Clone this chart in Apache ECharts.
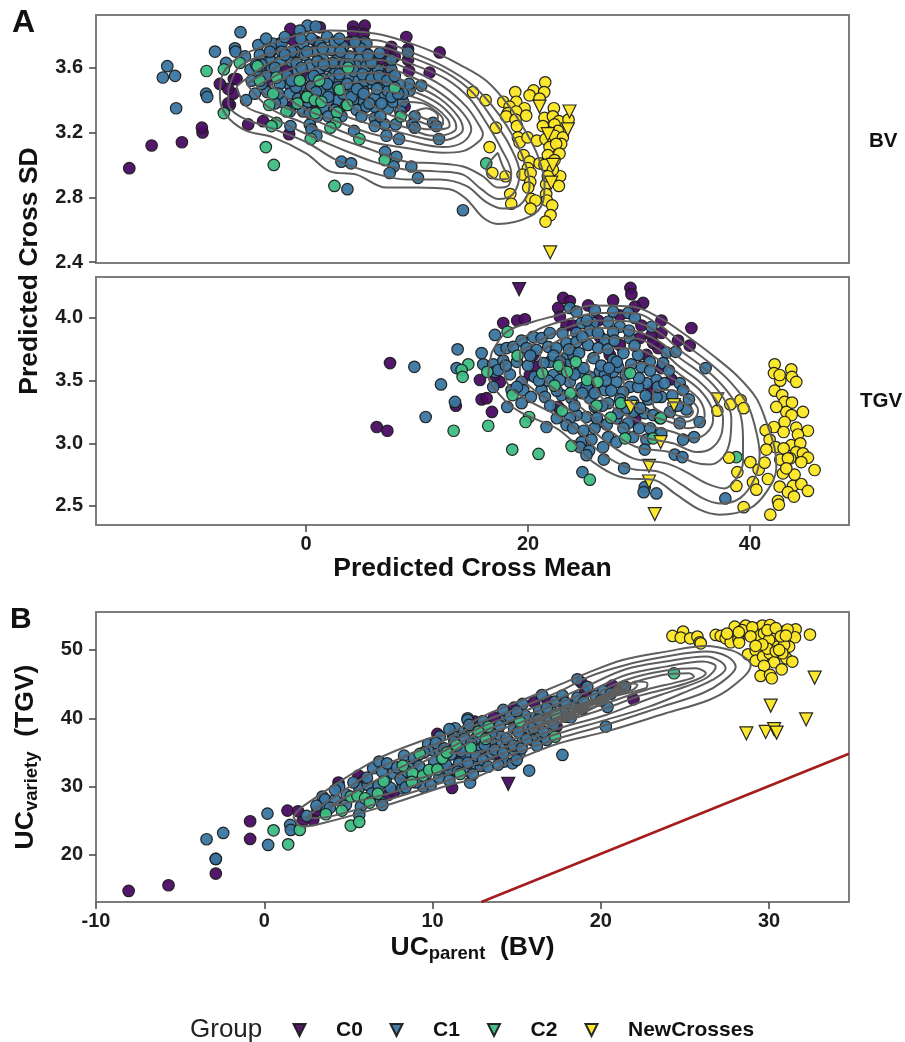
<!DOCTYPE html>
<html><head><meta charset="utf-8">
<style>html,body{margin:0;padding:0;background:#fff}#c{width:905px;height:1042px}</style>
<script src="https://cdn.jsdelivr.net/npm/echarts@6/dist/echarts.min.js"></script>
</head><body><div id="c"></div>
<script>
const groups=['C0','C1','C2','NewCrosses'];
const xTicksA=[0,20,40];
const yTicksBV=[2.4,2.8,3.2,3.6];
const yTicksTGV=[2.5,3.0,3.5,4.0];
const xTicksB=[-10,0,10,20,30];
const yTicksB=[20,30,40,50];

const bvC0=[[-15.92,2.98],[-13.91,3.12],[-11.18,3.14],[-9.32,3.2],[-9.38,3.23],[-5.21,3.25],[-3.86,3.27],[-1.52,3.19],[-6.86,3.37],[-7.01,3.38],[-6.56,3.44],[-7.01,3.47],[-7.76,3.5],[-6.5,3.53],[-6.26,3.53],[-3.41,3.52],[-1.4,3.84],[1.24,3.85],[4.24,3.855],[5.29,3.86],[4.24,3.82],[5.2,3.81],[9.04,3.79],[12.04,3.695],[11.14,3.57],[3.94,3.76],[7.69,3.73],[9.19,3.715],[7.39,3.7],[9.19,3.65],[7.99,3.67],[9.28,3.58],[7.24,3.58],[6.94,3.52],[8.89,3.36],[-2.36,3.75],[-1.16,3.77],[0.94,3.76],[-1.76,3.58],[-0.26,3.56],[2.44,3.465],[0.94,3.36],[-1.16,3.37],[5.44,3.69],[6.64,3.65],[7.54,3.61],[-3.26,3.69]];
const bvC0Tri=[[4.54,3.715]];
const bvC1=[[-12.5,3.61],[-12.9,3.54],[-11.8,3.55],[-11.7,3.35],[-9,3.44],[-8.9,3.42],[-8.2,3.7],[-5.9,3.82],[-6.4,3.72],[-6.35,3.7],[-7.2,3.63],[-5.5,3.67],[0.13,3.86],[0.88,3.855],[-0.56,3.83],[-4.3,3.74],[-4.16,3.68],[-5.4,3.4],[-4.6,3.44],[-5,3.59],[-4.9,3.52],[-1.4,3.24],[0.34,3.25],[0.49,3.22],[0.94,3.18],[4.33,3.21],[3.19,3.02],[4.06,3.01],[3.73,2.85],[7.12,3.08],[8.14,3.05],[7.9,2.99],[7.54,2.95],[9.49,2.99],[10.09,2.92],[14.14,2.72],[11.44,3.26],[11.74,3.24],[9.79,3.3],[9.58,3.25],[9.79,3.23],[11.98,3.16],[8.38,3.16],[7.24,3.18],[7.09,3.25],[8.08,3.25],[6.19,3.29],[6.19,3.24],[10.39,3.49],[9.34,3.46],[9.28,3.5],[-3,3.75],[-2.2,3.75],[-1,3.7],[0.49,3.78],[1.9,3.79],[1.24,3.74],[2.29,3.71],[3.34,3.73],[5.29,3.76],[3.34,3.68],[-2.2,3.7],[-3.17,3.64],[-4,3.62],[-2.3,3.64],[-1.3,3.64],[-0.11,3.68],[0.79,3.7],[2.74,3.645],[1.54,3.65],[3.94,3.67],[4.84,3.65],[6.04,3.64],[7.69,3.59],[6.19,3.56],[4.54,3.54],[3.34,3.59],[2.29,3.54],[1.24,3.59],[0.34,3.62],[-0.71,3.58],[-1.52,3.5],[-2.36,3.5],[-4.16,3.58],[-1.46,3.44],[0.19,3.475],[1.24,3.455],[2.2,3.475],[3.04,3.52],[4.24,3.465],[5.14,3.465],[5.89,3.505],[7.09,3.495],[8.44,3.495],[7.09,3.43],[6.19,3.41],[5.14,3.4],[4.24,3.4],[2.89,3.4],[1.99,3.4],[0.94,3.4],[0.19,3.39],[-0.71,3.41],[-2.15,3.39],[-1.46,3.33],[-0.26,3.33],[0.34,3.32],[1.54,3.35],[2.59,3.34],[3.64,3.37],[4.54,3.34],[5.44,3.36],[6.19,3.36],[7.39,3.35],[7.84,3.39],[8.74,3.39],[7.39,3.455],[8.74,3.44],[4.54,3.61],[5.44,3.61],[6.64,3.69],[7.69,3.65],[9.19,3.695],[-0.56,3.485],[0.49,3.54],[1.54,3.53],[3.34,3.44],[3.79,3.54],[5.29,3.52],[6.49,3.59],[-0.26,3.75],[-1.3,3.7],[2.59,3.59],[-3.26,3.7],[-3.1,3.59],[-0.86,3.63],[0.49,3.485],[5.44,3.75],[2.59,3.76],[3.49,3.62],[5.89,3.63],[7.69,3.54],[1.84,3.61],[1.03,3.64],
[-4.5,3.62],[-3.6,3.55],[-2.8,3.6],[-1.9,3.68],[-1.7,3.55],[-0.9,3.48],[-0.4,3.6],[0.1,3.7],[0.7,3.55],[0.9,3.45],[1.5,3.72],[1.9,3.5],[2,3.42],[2.4,3.63],[2.9,3.48],[3,3.56],[3.1,3.7],[3.7,3.5],[3.9,3.62],[4.1,3.42],[4.3,3.58],[4.6,3.47],[4.9,3.72],[5.1,3.56],[5.2,3.44],[5.7,3.38],[5.6,3.68],[5.9,3.53],[6.4,3.47],[6.6,3.55],[6.8,3.38],[7.3,3.52],[7.7,3.42],[8,3.55],[8.3,3.44],[8.5,3.33],[6.7,3.3],[5,3.3],[3.2,3.3],[2,3.3],[1,3.3],[-2.5,3.44],[-3.5,3.45],[-4,3.5],[-2.8,3.38],[-1.3,3.52],[0,3.42],[1.6,3.62],[3,3.78],[4.4,3.76],[-0.5,3.78],[-1.9,3.79],[-3.6,3.78]];
const bvC2=[[-8.96,3.58],[-7.4,3.59],[-5.96,3.63],[-4.37,3.61],[-4.16,3.52],[-2.66,3.54],[-0.56,3.52],[1.18,3.52],[3.79,3.6],[3.04,3.465],[-2.96,3.44],[7.99,3.475],[0.1,3.42],[0.79,3.4],[1.39,3.39],[-0.77,3.38],[3.73,3.37],[-3.32,3.37],[-1.76,3.33],[0.85,3.32],[-7.4,3.32],[2.8,3.325],[2.68,3.26],[2.2,3.23],[8.53,3.3],[-2.66,3.26],[-3.11,3.24],[0.43,3.16],[4.81,3.16],[-3.62,3.11],[-2.9,3],[7.09,3.03],[2.56,2.87],[16.24,3.01]];
const bvNew=[[15.04,3.45],[16.18,3.4],[17.11,3.23],[16.54,3.11],[16.78,2.95],[17.98,2.93],[17.77,3.39],[18.85,3.45],[20.5,3.46],[20.14,3.43],[21.55,3.51],[21.46,3.45],[21.04,3.41],[18.94,3.39],[19.69,3.35],[18.34,3.36],[18.19,3.32],[18.04,3.3],[18.94,3.33],[19.84,3.305],[18.88,3.28],[19,3.24],[19.09,3.17],[19.24,3.14],[19.96,3.17],[20.8,3.15],[22.33,3.35],[21.49,3.29],[22.24,3.3],[22.78,3.27],[23.65,3.28],[21.34,3.24],[22.39,3.25],[22.69,3.21],[21.94,3.2],[21.58,3.16],[22.39,3.18],[23.14,3.17],[22.99,3.13],[21.94,3.11],[22.54,3.13],[22.84,3.07],[21.79,3.06],[19.6,3.06],[20.14,3.02],[21.04,3.01],[21.49,3],[22.39,3.03],[19.99,2.98],[19.51,2.94],[20.23,2.95],[20.2,2.895],[20.02,2.86],[22.9,2.93],[22.78,2.87],[21.64,2.88],[21.64,2.82],[21.7,2.78],[18.4,2.82],[18.49,2.76],[20.29,2.79],[20.68,2.78],[20.23,2.73],[22.18,2.75],[22.03,2.69],[21.58,2.65],[22.24,2.97],[21.79,2.93]];
const bvNewTri=[[21.04,3.36],[23.74,3.33],[23.59,3.22],[21.79,3.19],[22.24,3],[22.09,2.89],[22,2.46]];
const bvContours=[
[[-7.76,3.44],[-7.46,3.567],[-5.96,3.67],[-3.86,3.73],[-0.86,3.8],[2.14,3.83],[6.34,3.81],[9.04,3.76],[11.74,3.69],[13.84,3.62],[16.24,3.52],[18.34,3.36],[19.84,3.2],[20.89,3.055],[21.49,2.89],[21.34,2.77],[20.14,2.68],[17.29,2.635],[15.94,2.675],[14.44,2.79],[12.94,2.85],[9.94,2.86],[7.24,2.86],[4.54,2.94],[2.14,2.96],[0.04,3.07],[-2.96,3.17],[-5.36,3.21],[-6.86,3.28],[-7.61,3.36]],
[[-7,3.465],[-5.96,3.61],[-2.66,3.7],[2.14,3.78],[6.34,3.77],[9.34,3.7],[12.34,3.61],[15.04,3.49],[17.29,3.32],[18.94,3.14],[19.84,2.99],[20.14,2.87],[19.24,2.75],[17.74,2.73],[16.24,2.77],[14.44,2.87],[12.04,2.91],[9.04,2.91],[6.04,2.95],[2.74,3.03],[0.04,3.14],[-3.26,3.23],[-5.96,3.3],[-7,3.38]],
[[-6.26,3.485],[-2.66,3.65],[2.14,3.73],[6.34,3.73],[9.64,3.66],[12.64,3.57],[15.04,3.445],[16.84,3.28],[18.34,3.12],[19.24,2.95],[18.64,2.82],[17.29,2.79],[15.79,2.85],[14.14,2.94],[11.74,2.96],[9.04,2.97],[6.04,3.02],[2.74,3.11],[-0.26,3.2],[-3.26,3.3],[-5.36,3.36]],
[[-5.36,3.5],[-2.06,3.62],[2.14,3.69],[6.34,3.69],[9.64,3.62],[12.64,3.53],[14.74,3.41],[16.24,3.26],[17.59,3.1],[18.49,2.95],[18.19,2.87],[17.29,2.86],[15.94,2.93],[14.14,2.99],[11.74,3.01],[9.04,3.02],[6.04,3.09],[2.74,3.17],[-0.26,3.26],[-3.26,3.35]],
[[-4.46,3.485],[-1.46,3.59],[2.14,3.65],[6.34,3.65],[9.64,3.58],[12.34,3.485],[14.44,3.36],[15.64,3.24],[15.94,3.19],[15.49,3.14],[14.14,3.085],[12.34,3.075],[9.04,3.105],[6.04,3.14],[2.74,3.22],[-0.26,3.31],[-2.66,3.38]],
[[17.29,3.075],[17.74,2.99],[18.28,2.92],[17.29,2.91],[16.24,2.97],[16.69,3.03]],
[[-3.26,3.5],[-0.86,3.56],[2.14,3.61],[6.34,3.61],[9.64,3.54],[12.19,3.44],[14.14,3.32],[14.89,3.22],[14.14,3.14],[12.34,3.11],[9.04,3.15],[6.04,3.19],[2.74,3.27],[-0.26,3.35]],
[[0.04,3.485],[2.74,3.56],[6.34,3.57],[9.64,3.495],[12.04,3.41],[13.69,3.3],[14.14,3.22],[13.39,3.17],[12.04,3.15],[9.04,3.19],[6.34,3.24],[3.04,3.32]],
[[3.34,3.5],[6.34,3.52],[9.64,3.455],[11.89,3.38],[13.24,3.29],[13.54,3.23],[12.79,3.19],[11.44,3.18],[9.04,3.23],[6.34,3.29],[3.94,3.37]],
[[6.34,3.465],[9.64,3.42],[11.74,3.35],[12.79,3.28],[12.94,3.24],[12.04,3.22],[10.84,3.22],[9.04,3.27],[6.64,3.34],[5.44,3.41]],
[[8.74,3.39],[10.54,3.38],[11.74,3.33],[12.34,3.28],[12.34,3.25],[11.14,3.25],[9.34,3.3],[8.29,3.35]],
[[9.79,3.33],[10.84,3.35],[11.89,3.3],[11.74,3.27],[10.54,3.29]]
];

const tgvC0=[[7.57,3.64],[6.37,3.13],[7.33,3.1],[13.5,3.3],[16.75,3.25],[15.67,3.505],[15.82,3.35],[16.27,3.36],[17.47,3.49],[17,3.545],[17.77,3.96],[19.03,3.98],[19.72,3.99],[22.72,4.08],[22.87,4.01],[23.17,4.16],[23.77,4.135],[27.67,4.14],[29.23,4.24],[29.32,4.19],[25.42,4.1],[30.37,4.12],[29.62,4.09],[23.47,3.94],[24.07,3.94],[26.32,3.98],[28.27,4.02],[30.22,3.94],[31.12,3.86],[32.02,3.88],[32.02,3.98],[33.52,3.82],[34.57,3.78],[34.72,3.92],[31.72,3.76],[31.27,3.8],[32.92,3.51],[31.12,3.425],[29.65,3.19],[22.72,3.29],[25.72,3.42],[20.17,3.545],[20.77,3.61],[20.47,3.705],[26.47,3.85],[27.37,3.705],[28.27,3.785],[30.67,3.705],[32.02,3.6],[30.07,3.84]];
const tgvC0Tri=[[19.2,4.23]];
const tgvC1=[[9.76,3.61],[12.16,3.47],[13.42,3.33],[10.78,3.21],[13.66,3.75],[13.57,3.6],[15.82,3.72],[17.02,3.865],[15.97,3.63],[16.87,3.63],[17.02,3.57],[17.77,3.66],[17.32,3.585],[18.37,3.55],[16.87,3.45],[19.42,3.49],[19.57,3.425],[18.52,3.425],[18.13,3.29],[19.42,3.32],[20.26,3.37],[21.67,3.13],[17.47,3.745],[18.07,3.76],[18.67,3.77],[19.42,3.82],[19.87,3.76],[20.47,3.85],[21.22,3.84],[21.97,3.88],[20.77,3.745],[21.82,3.77],[22.57,3.76],[23.47,3.8],[23.77,4.08],[24.37,4.05],[26.02,4.06],[27.67,4.05],[29.02,4.04],[29.62,4],[27.22,3.97],[25.87,3.96],[24.82,3.96],[24.37,3.88],[25.57,3.9],[26.92,3.825],[28.27,3.93],[29.17,3.84],[31.12,3.93],[27.67,3.89],[29.92,3.705],[30.97,3.65],[30.22,3.61],[32.47,3.725],[33.31,3.73],[32.17,3.64],[36,3.6],[33.67,3.48],[33.97,3.425],[31.57,3.505],[30.67,3.48],[29.17,3.45],[29.92,3.45],[28.57,3.41],[27.97,3.49],[27.67,3.57],[26.47,3.57],[25.57,3.53],[24.67,3.57],[23.47,3.68],[24.07,3.705],[25.42,3.785],[23.47,3.625],[22.27,3.545],[23.77,3.49],[22.87,3.505],[21.22,3.425],[21.52,3.37],[23.02,3.385],[23.92,3.36],[24.82,3.44],[25.57,3.36],[26.92,3.425],[27.22,3.32],[26.02,3.29],[25.27,3.21],[24.37,3.225],[23.77,3.2],[23.47,3.145],[24.07,3.12],[26.32,3.17],[27.97,3.2],[29.02,3.16],[28.12,3.24],[30.52,3.24],[31.27,3.225],[33.67,3.16],[34.27,3.27],[35.47,3.17],[32.02,3.37],[30.82,3.35],[31.57,3.37],[29.47,3.33],[24.82,3.01],[25.72,3.03],[27.22,3.05],[27.97,3.01],[29.47,3.05],[30.67,3.03],[30.52,2.95],[33.97,3.03],[34.96,3.05],[33.22,2.91],[33.91,2.89],[26.77,2.97],[24.67,2.97],[25.5,2.94],[25.27,2.905],[26.83,2.87],[28.66,2.8],[24.9,2.77],[30.52,2.65],[30.42,2.61],[31.57,2.6],[37.78,2.56],[26.92,3.545],[28.12,3.61],[21.97,3.65],[24.37,3.81],[26.32,3.76],[27.67,3.665],
[19,3.65],[20,3.62],[20.6,3.53],[21.4,3.64],[21.8,3.5],[22.3,3.7],[22.6,3.42],[23,3.6],[23.1,3.88],[23.7,3.75],[24.2,3.55],[24.6,3.72],[24.9,3.85],[25,3.6],[25.3,3.45],[25.3,3.98],[25.9,3.68],[26,3.4],[26.3,3.88],[26.6,3.62],[26.7,3.3],[27,3.5],[27.2,3.75],[27.5,3.42],[27.8,3.82],[28,3.65],[28.3,3.35],[28.6,3.72],[28.8,3.55],[29.1,3.9],[29.3,3.63],[29.5,3.25],[29.6,3.78],[30,3.52],[30.6,3.38],[31,3.58],[31.7,3.45],[32.3,3.48],[32.7,3.58],[33,3.38],[24.2,3.3],[25,3.1],[26,3.12],[27.1,3.15],[28.6,3.12],[30,3.12],[31,3.12],[32,3.08],[22.6,3.2],[24.9,3.4],[22,3.3],[21,3.5],[20.2,3.7],[19,3.45],[18,3.62],[22.9,3.65],[26.2,3.2],[27.3,3.6],[28.9,3.28],[30.1,3.28],[32.8,3.25],[33.5,3.3],[34.5,3.35],[31.9,3.2]];
const tgvC2=[[18.16,3.89],[14.62,3.63],[14.02,3.585],[14.11,3.53],[16.33,3.57],[19.06,3.7],[22.78,3.62],[24.31,3.65],[23.53,3.57],[21.28,3.56],[25.33,3.505],[26.26,3.49],[29.2,3.56],[22.39,3.46],[23.83,3.4],[18.61,3.385],[28.36,3.32],[26.17,3.3],[23.08,3.26],[20.1,3.21],[19.78,3.17],[16.42,3.14],[13.3,3.1],[18.58,2.95],[20.95,2.915],[27.46,3.205],[31.96,3.2],[23.92,2.98],[28.75,3.04],[31.27,3.04],[25.57,2.71],[38.77,2.89]];
const tgvNew=[[37.06,3.26],[38.23,3.31],[39.15,3.345],[39.43,3.28],[42.22,3.63],[42.16,3.56],[43.72,3.59],[43.78,3.53],[44.17,3.49],[42.73,3.5],[42.22,3.42],[42.9,3.385],[43.12,3.33],[43.78,3.325],[44.77,3.25],[43.27,3.25],[43.75,3.225],[43.12,3.17],[42.16,3.13],[41.41,3.105],[43.03,3.09],[44.17,3.125],[45.22,3.1],[44.32,3.07],[41.77,3.03],[42.31,2.97],[41.47,2.95],[43.72,2.985],[44.53,3],[43.03,2.96],[44.17,2.93],[44.77,2.92],[45.22,2.885],[42.73,2.87],[43.63,2.88],[44.62,2.85],[38.11,2.885],[38.86,2.77],[40.03,2.85],[40.78,2.79],[41.32,2.845],[41.62,2.715],[45.82,2.787],[42.97,2.76],[44.02,2.75],[42.67,2.655],[43.87,2.66],[44.62,2.675],[40.27,2.69],[40.57,2.63],[38.77,2.66],[45.22,2.62],[43.42,2.61],[43.96,2.575],[42.52,2.54],[42.6,2.51],[39.43,2.49],[41.83,2.43],[42.37,3.29],[42.67,3.545],[43.42,2.88],[43.27,2.8]];
const tgvNewTri=[[29.25,3.29],[33.15,3.305],[37.05,3.35],[31.95,3.01],[30.9,2.82],[30.9,2.695],[31.42,2.435]];
const tgvContours=[
[[16.72,3.72],[18.07,3.89],[20.47,3.97],[22.57,4.02],[25.87,4.1],[29.47,4.09],[31.87,4],[34.27,3.86],[36.67,3.7],[38.77,3.545],[40.57,3.36],[41.47,3.17],[42.22,2.96],[42.37,2.8],[41.47,2.61],[39.97,2.48],[37.27,2.43],[35.47,2.47],[33.37,2.59],[31.27,2.71],[28.87,2.72],[25.87,2.85],[24.07,3.01],[22.57,3.12],[19.27,3.25],[17.47,3.385],[16.42,3.545]],
[[17.77,3.73],[20.47,3.89],[22.87,3.97],[26.47,4.04],[29.47,4.04],[31.87,3.94],[33.97,3.8],[36.37,3.64],[38.32,3.48],[39.82,3.3],[40.57,3.09],[40.87,2.91],[40.42,2.72],[39.07,2.56],[37.27,2.52],[35.77,2.56],[33.67,2.68],[31.87,2.77],[29.17,2.8],[26.47,2.93],[24.67,3.09],[22.87,3.21],[19.87,3.35],[18.07,3.49]],
[[19.27,3.73],[22.87,3.9],[26.47,3.98],[29.47,3.97],[31.87,3.88],[33.67,3.745],[36.07,3.585],[37.87,3.425],[39.07,3.25],[39.37,3.04],[39.37,2.85],[38.77,2.72],[37.72,2.64],[36.07,2.68],[34.27,2.77],[32.47,2.84],[29.47,2.88],[27.07,3.01],[25.27,3.15],[23.47,3.28],[20.77,3.41],[19.27,3.57]],
[[21.07,3.73],[23.47,3.85],[26.47,3.92],[29.47,3.9],[31.87,3.81],[33.67,3.68],[35.77,3.545],[37.42,3.385],[38.32,3.2],[38.17,3.01],[37.57,2.89],[36.37,2.83],[34.87,2.85],[32.77,2.93],[29.77,2.97],[27.37,3.1],[25.57,3.225],[23.77,3.36],[21.67,3.49]],
[[22.87,3.705],[25.87,3.84],[29.47,3.84],[31.87,3.745],[33.67,3.61],[35.47,3.49],[36.82,3.36],[37.57,3.2],[37.42,3.07],[36.52,2.96],[35.17,2.93],[33.07,3],[30.37,3.05],[27.67,3.17],[25.87,3.29],[24.07,3.44]],
[[25.27,3.665],[27.67,3.76],[30.07,3.745],[32.47,3.625],[33.97,3.53],[35.47,3.425],[36.52,3.29],[36.67,3.185],[36.07,3.08],[34.87,3.04],[33.07,3.09],[30.67,3.15],[28.27,3.25],[26.47,3.385]],
[[28.57,3.6],[30.37,3.64],[32.47,3.545],[34.12,3.45],[35.47,3.345],[35.92,3.225],[35.47,3.15],[34.42,3.12],[32.77,3.17],[30.67,3.24],[28.87,3.385]],
[[31.27,3.425],[32.77,3.425],[34.42,3.36],[35.32,3.265],[35.02,3.2],[33.97,3.17],[32.62,3.225],[31.27,3.305]],
[[32.62,3.33],[33.97,3.32],[34.87,3.25],[34.42,3.21],[33.37,3.225],[32.62,3.28]]
];

const ucC0=[[-8.06,14.72],[-5.69,15.55],[-2.88,17.26],[-2.88,19.4],[-0.84,24.92],[-0.84,22.33],[1.38,26.48],[2.01,26.38],[2.27,24.87],[2.91,25.12],[3.16,26.48],[4.41,30.58],[5.6,31.61],[5.94,30.97],[7.36,28.78],[7.72,29.26],[8.21,30.58],[10.29,37.71],[11.16,29.8],[12.51,39.51],[11.68,34.39],[20.69,44.78],[21.94,42.78],[18.85,45.22],[19.07,43.81],[18.91,41.37],[17.37,38.78],[17.92,40.24],[16.83,42.59],[16.04,42.34],[14.85,41.56],[13.66,40.15],[14.06,34.14]];
const ucC0Tri=[[14.5,30.39]];
const ucC1=[[-3.43,22.29],[-2.44,23.21],[-2.88,19.41],[0.19,26.04],[0.23,21.46],[1.54,24.39],[1.58,23.65],[2.53,25.7],[3.46,28.53],[3.62,28.14],[3.66,26.73],[4.21,28.04],[4.85,27.31],[4.45,30],[5.74,27.07],[5.64,25.85],[5.64,29.85],[6.15,30.24],[6.47,32.68],[6.83,33.66],[6.93,27.8],[7.02,27.31],[7.22,30.97],[7.66,31.95],[8.21,29.75],[8.31,34.53],[8.85,33.17],[9.44,30],[9.74,36.19],[9.99,35.36],[10.39,35.36],[10.43,37.32],[11.22,37.32],[11.34,38.54],[11.88,38.05],[12.09,40],[12.17,38.78],[10.59,32.44],[11.12,32.44],[11.62,33.3],[12.07,32.34],[12.23,30.58],[12.57,33.17],[12.87,33.02],[11.97,34.39],[12.57,37.07],[13.26,35.61],[10.99,32.44],[13.47,34.73],[14.26,33.66],[14.75,33.41],[15.15,34.78],[14.85,35.36],[13.96,37.56],[14.06,36.1],[14.36,39.9],[14.2,41.22],[14.85,38.54],[15.74,38.54],[15.35,37.22],[16.4,37.46],[16.79,36.83],[16,40],[16.34,41.22],[15.35,42.1],[16.83,39.9],[17.27,42.44],[17.72,43.32],[17.82,41.22],[18.22,40.15],[18.36,42.05],[18.61,43.03],[18.61,45.71],[19.7,43.27],[20.14,44],[21.44,44.64],[20.4,41.66],[20.3,38.78],[17.72,34.63],[15.74,32.34],[13.27,38.29],[12.08,39.76],[11.29,37.3],[12.18,39.02],[12.77,35.36],[11.58,33.4],[13.47,36.58],[12.57,33.9],[14.55,36.58],[15.94,36.8],
[3.1,27.2],[3.9,26.9],[4.2,29.5],[4.9,28.8],[5.3,30.6],[6.1,31.3],[6.4,29],[6.8,30.1],[7,32.2],[7.3,33.4],[7.5,29.8],[7.9,32.8],[8.1,31.1],[8.4,29.9],[8.5,32.2],[8.9,34.2],[9,30.6],[9.2,33],[9.5,35],[9.6,31.7],[9.9,30.3],[10.1,33.6],[10.2,36.4],[10.4,31.3],[10.7,35.6],[10.8,33.2],[11,30.9],[11.1,34.7],[11.3,36.5],[11.5,32.2],[11.7,35.2],[11.9,37],[12.1,33.5],[12.3,36.3],[12.4,31.8],[12.6,34.5],[12.8,38.7],[13,33.9],[13.1,36.1],[13.3,32.9],[13.5,37.8],[13.7,35.4],[13.9,33.2],[14,38.9],[14.2,34.9],[14.4,37],[14.6,40.2],[14.8,36],[15,33.9],[15.1,38],[15.3,35.6],[15.5,40.4],[15.6,36.9],[16,38.6],[16.2,36],[16.3,39.8],[16.6,38],[16.8,41.5],[17.2,39.1],[17.9,42.3],[19,42.4],[19.2,44.6],[20,42.6],[20.6,43.6],[16.5,43.4],[15,41],[13,39.6],[11,38.4]];
const ucC2=[[24.35,46.59],[17.33,40.59],[17.29,37.3],[15.19,39.51],[0.55,23.6],[1.42,21.55],[2.11,23.65],[3.66,25.95],[4.61,26.48],[5.14,24.29],[5.64,24.82],[5.14,28.53],[5.54,28.63],[5.99,28.29],[6.27,27.65],[6.75,28.97],[7.1,30.78],[8.23,33.07],[8.81,31.95],[8.77,30.68],[9.44,31.61],[9.24,34.78],[9.8,32.44],[10.29,32.53],[10.59,34.14],[10.85,35],[11.42,36.05],[12.27,35.71],[11.64,31.85],[12.73,38.05],[13.16,36.97],[13.32,38.78]];
const ucNew=[[24.26,52.05],[24.89,52.69],[24.75,51.81],[25.31,51.71],[25.74,51.96],[25.88,51.13],[25.94,50.98],[26.83,52.2],[27.13,52.05],[27.42,51.71],[27.72,51.13],[27.96,53.42],[28.18,51.57],[28.22,51.08],[28.61,53.57],[28.75,52.54],[29.31,53.18],[29.31,51.37],[29.6,53.57],[30.06,53.66],[29.31,52.2],[29.7,52.44],[30.49,52.35],[30.89,52.69],[31.35,52.54],[31.58,53.03],[30.29,51.71],[31.54,51.86],[32.43,52.25],[30.02,50.64],[30.49,50.49],[31.19,50.49],[28.75,49.37],[29.21,49.91],[29.21,48.44],[29.64,49.03],[30.04,49.52],[30.3,48.2],[30.75,47.17],[31.03,48.78],[31.38,48.3],[29.7,47.66],[29.5,46.2],[30.06,46.34],[30.16,45.86],[30,51.47],[30.89,50.74],[30.79,49.52],[28.4,52.9],[29,53.3],[28.9,52],[29.9,52.9],[30.4,53.2],[30.7,52],[31.1,53],[29.9,50.2],[30.4,49.8],[29.6,50.8],[31,52.1],[30.6,50],[29.2,50.6],[28.2,52.6],[27.5,52.4]];
const ucNewTri=[[32.71,45.95],[30.1,41.85],[32.2,39.85],[28.65,37.8],[29.8,38],[30.3,38.4],[30.45,37.9]];
const ucContours=[
[[1.72,25.6],[2.27,27.07],[6.63,33.9],[9.8,37.07],[10.99,37.8],[13.37,40.73],[15.35,42.68],[17.52,44.88],[18.91,46.34],[21.29,48.54],[23.86,49.76],[26.24,50.59],[27.82,49.9],[28.61,48.78],[28.91,47.81],[27.82,44.64],[26.43,42.68],[23.86,40.73],[20.3,38.05],[17.52,36.34],[14.95,33.9],[12.18,30.97],[10.98,30.24],[7.02,27.07],[3.46,24.63],[2.27,24.14]],
[[2.47,25.36],[3.46,27.31],[7.02,32.92],[10.99,37.07],[12.97,39.51],[15.35,41.71],[17.52,43.9],[19.31,46.1],[21.48,47.81],[23.86,49.03],[26.24,49.76],[27.52,49.03],[28.02,47.56],[27.23,45.37],[26.04,43.66],[23.66,41.71],[20.3,39.02],[17.52,37.07],[14.95,34.88],[12.18,31.95],[7.02,27.8],[3.86,25.6]],
[[3.86,27.07],[7.42,31.95],[10.99,36.34],[12.97,38.78],[15.35,40.98],[17.52,42.93],[19.31,44.88],[21.48,47.17],[23.86,48.3],[26.24,49.03],[27.13,48.3],[27.42,47.32],[26.63,45.61],[24.85,43.66],[22.87,41.71],[20.3,39.76],[17.52,37.8],[14.95,35.61],[12.18,32.92],[7.42,29]],
[[7.82,31.46],[10.99,35.61],[12.97,38.05],[15.35,40.24],[17.52,42.2],[19.5,44.15],[21.48,46.34],[23.86,47.56],[26.04,48.3],[26.83,47.56],[26.24,45.86],[24.45,44.15],[22.67,42.68],[20.3,40.49],[17.52,38.54],[14.95,36.34],[12.18,33.9],[8.41,30.97]],
[[10.99,34.88],[12.97,37.32],[15.35,39.51],[17.52,41.46],[19.5,43.42],[21.48,45.61],[23.86,46.98],[25.64,47.32],[26.24,46.59],[25.64,45.61],[24.06,44.39],[22.47,43.42],[20.3,41.46],[17.52,39.27],[14.95,37.07],[12.18,34.88]],
[[12.97,36.58],[15.35,38.78],[17.52,40.73],[19.5,42.68],[21.48,44.88],[23.66,46.34],[25.25,46.59],[25.54,46.1],[24.65,45.37],[22.67,44.15],[20.3,42.2],[17.52,40],[14.95,37.8],[13.56,36.58]],
[[15.35,38.05],[17.52,40.15],[19.5,41.95],[21.29,43.9],[22.08,45.37],[22.77,45.12],[22.67,44.39],[20.3,42.93],[17.52,40.73],[15.35,38.78]],
[[17.52,39.51],[19.5,41.46],[21.48,45.12],[22.18,44.88],[21.88,44.15],[19.7,42.68],[17.52,41.22],[16.34,39.76]],
[[15.94,38.29],[18.12,40.49],[20.3,43.17],[21.68,44.54],[20.89,43.42],[18.51,41.22],[16.34,39.02]],
[[16.93,39.51],[18.91,41.71],[20.69,43.9],[21.29,44.39],[20.3,42.44],[18.51,40.49]]
];
const redLine=[[12.9,13.1],[34.75,34.8]];

const colors={C0:'#4a0c63',C1:'#3a76a0',C2:'#3dbd83',NewCrosses:'#fde725'};
const font='Liberation Sans';
const tickStyle={show:true,length:7,lineStyle:{color:'#444',width:1.5}};
const lab={show:true,color:'#1c1c1c',fontFamily:font,fontWeight:'bold',fontSize:20};
function xAxis(i,min,max,ticks,show,extra){return Object.assign({gridIndex:i,type:'value',min,max,axisLine:{show:false,onZero:false},splitLine:{show:false},
  axisTick:Object.assign({},tickStyle,{show,customValues:ticks}),axisLabel:Object.assign({},lab,{show,margin:9,customValues:ticks})},extra||{});}
function yAxis(i,min,max,ticks,fmt,extra){return Object.assign({gridIndex:i,type:'value',min,max,axisLine:{show:false,onZero:false},splitLine:{show:false},
  axisTick:Object.assign({},tickStyle,{customValues:ticks}),axisLabel:Object.assign({},lab,{margin:13,customValues:ticks,formatter:fmt})},extra||{});}
const series=[];
function contours(list,i){list.forEach(r=>series.push({type:'line',name:'density',xAxisIndex:i,yAxisIndex:i,data:r.concat([r[0]]),smooth:0.35,symbol:'none',silent:true,
  lineStyle:{color:'#5e5e5e',width:2}}));}
function pts(name,data,i,tri){series.push({type:'scatter',name,xAxisIndex:i,yAxisIndex:i,data,silent:true,
  symbol:tri?'triangle':'circle',symbolSize:tri?13:11.5,symbolRotate:tri?180:0,
  itemStyle:{color:colors[name],borderColor:'#1c1c1c',borderWidth:1.2,opacity:0.95}});}
contours(bvContours,0);pts('C0',bvC0,0);pts('C0',bvC0Tri,0,true);pts('C1',bvC1,0);pts('C2',bvC2,0);pts('NewCrosses',bvNew,0);pts('NewCrosses',bvNewTri,0,true);
contours(tgvContours,1);pts('C0',tgvC0,1);pts('C0',tgvC0Tri,1,true);pts('C1',tgvC1,1);pts('C2',tgvC2,1);pts('NewCrosses',tgvNew,1);pts('NewCrosses',tgvNewTri,1,true);
contours(ucContours,2);
series.push({type:'line',name:'reference',xAxisIndex:2,yAxisIndex:2,data:redLine,symbol:'none',silent:true,lineStyle:{color:'#a51c1c',width:2.6}});
pts('C0',ucC0,2);pts('C0',ucC0Tri,2,true);pts('C1',ucC1,2);pts('C2',ucC2,2);pts('NewCrosses',ucNew,2);pts('NewCrosses',ucNewTri,2,true);

const gridBase={show:true,left:96,width:753,backgroundColor:'#fff',borderColor:'#7d7d7d',borderWidth:2};
const head={fontFamily:font,fontWeight:'bold',fill:'#111'};
const richName={a:{fontFamily:font,fontWeight:'bold',fontSize:26.5,color:'#111'},s:{fontFamily:font,fontWeight:'bold',fontSize:18.5,color:'#111',verticalAlign:'bottom',padding:[12,0,0,0]}};
const legLeft=[287.5,384.5,482,579.5];
const option={animation:false,backgroundColor:'#fff',
 grid:[Object.assign({},gridBase,{top:15,height:248}),Object.assign({},gridBase,{top:277,height:248}),Object.assign({},gridBase,{top:612,height:290})],
 xAxis:[xAxis(0,-18.92,48.92,xTicksA,false),
  xAxis(1,-18.92,48.92,xTicksA,true,{name:'Predicted Cross Mean',nameLocation:'middle',nameGap:28,nameTextStyle:{fontFamily:font,fontWeight:'bold',fontSize:26.5,color:'#111'}}),
  xAxis(2,-10,34.75,xTicksB,true,{name:'{a|UC}{s|parent}{a|  (BV)}',nameLocation:'middle',nameGap:30,nameTextStyle:{rich:richName}})],
 yAxis:[yAxis(0,2.394,3.926,yTicksBV,v=>v.toFixed(1)),yAxis(1,2.348,4.327,yTicksTGV,v=>v.toFixed(1)),
  yAxis(2,13.1,55.56,yTicksB,v=>String(v),{name:'{a|UC}{s|variety}{a|  (TGV)}',nameLocation:'middle',nameGap:55,nameTextStyle:{rich:richName}})],
 legend:groups.map((g,i)=>({left:legLeft[i],top:1014.5,orient:'horizontal',selectedMode:false,itemWidth:13,itemHeight:12,
  data:[{name:g,icon:'path://M0 0L10 0L5 10Z'}],
  textStyle:{fontFamily:font,fontWeight:'bold',fontSize:21,color:'#111',padding:[0,0,0,25]}})),
 series,
 graphic:[
  {type:'text',left:12,top:7,style:Object.assign({text:'A',fontSize:32},head)},
  {type:'text',left:10,top:605,style:Object.assign({text:'B',fontSize:30},head)},
  {type:'text',left:869,top:131,style:Object.assign({text:'BV',fontSize:20.5},head)},
  {type:'text',left:860,top:391,style:Object.assign({text:'TGV',fontSize:20.5},head)},
  {type:'text',left:190,top:1017,style:{text:'Group',fontFamily:font,fontSize:26,fill:'#222'}},
  {type:'text',x:30,y:271,rotation:Math.PI/2,style:Object.assign({text:'Predicted Cross SD',fontSize:26.5,align:'center',verticalAlign:'middle'},head)}
 ]};
echarts.init(document.getElementById('c'),null,{renderer:'canvas'}).setOption(option);
</script></body></html>
